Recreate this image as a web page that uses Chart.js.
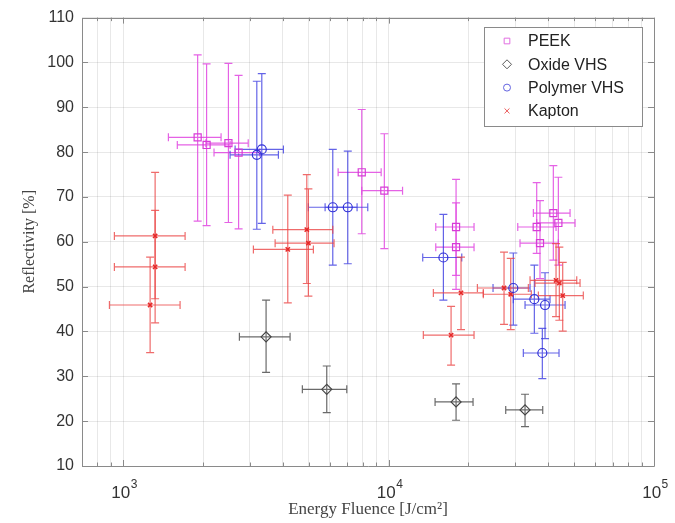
<!DOCTYPE html>
<html>
<head>
<meta charset="utf-8">
<script src="https://cdn.jsdelivr.net/npm/chart.js@4.4.1/dist/chart.umd.min.js"></script>
<style>
  html, body { margin: 0; padding: 0; background: #fff; }
  #wrap { width: 675px; height: 523px; }
</style>
</head>
<body>
<div id="wrap"><canvas id="chart" width="675" height="523"></canvas></div>
<script>
// PEEK
var peekX   = [1909, 2063, 2493, 2723, 7925, 9640, 17960, 17960, 41760, 43620, 36150, 37200];
var peekY   = [83.3, 81.6, 82.0, 79.9, 75.5, 71.4, 63.3, 58.8, 66.4, 64.2, 63.3, 59.7];
var peekXLo = [1481, 1600, 2050, 2200, 6457, 7925, 15060, 15060, 35120, 36150, 30670, 31280];
var peekXHi = [2339, 2530, 2960, 3270, 9378, 11290, 20990, 20990, 48280, 50410, 42750, 43620];
var peekYLo = [64.6, 63.6, 64.3, 62.9, 61.8, 58.5, 52.5, 49.4, 55.9, 54.8, 57.4, 51.8];
var peekYHi = [101.7, 99.7, 99.8, 97.1, 89.5, 84.1, 73.9, 68.7, 77.0, 74.4, 73.2, 69.2];

// Oxide VHS
var oxideX   = [3456, 5850, 17960, 32670];
var oxideY   = [38.8, 27.1, 24.3, 22.5];
var oxideXLo = [2742, 4734, 14970, 27630];
var oxideXHi = [4256, 6960, 20810, 38090];
var oxideYLo = [30.9, 21.9, 20.2, 18.8];
var oxideYHi = [47.0, 32.3, 28.3, 26.0];

// Polymer VHS
var polyX   = [3189, 3330, 6164, 7020, 16090, 29510, 35420, 38860, 37960];
var polyY   = [79.4, 80.6, 67.7, 67.7, 56.5, 49.7, 47.2, 45.9, 35.2];
var polyXLo = [2529, 2642, 4989, 5767, 13450, 24750, 29510, 32670, 32190];
var polyXHi = [3846, 4017, 7610, 8350, 18870, 34120, 40580, 46230, 43870];
var polyYLo = [62.8, 64.1, 54.8, 55.1, 47.0, 41.4, 39.6, 38.4, 29.5];
var polyYHi = [95.8, 97.5, 80.6, 80.2, 66.1, 57.5, 54.8, 53.1, 40.7];

// Kapton
var kapX   = [1320, 1320, 1264, 4920, 4988, 4172, 18750, 17200, 27230, 28860, 42750, 43990, 45300];
var kapY   = [61.3, 54.4, 45.9, 62.7, 59.7, 58.3, 48.6, 39.2, 49.7, 48.3, 51.4, 50.8, 48.0];
var kapXLo = [927, 927, 888, 3664, 3738, 3096, 14750, 13520, 21610, 22750, 34120, 35630, 36670];
var kapXHi = [1712, 1712, 1639, 6164, 6233, 5209, 22750, 20990, 33620, 34500, 51160, 52650, 54160];
var kapYLo = [47.3, 41.9, 35.3, 50.7, 47.9, 46.4, 40.4, 32.5, 41.6, 40.4, 43.3, 42.5, 40.1];
var kapYHi = [75.5, 67.0, 56.6, 75.0, 71.8, 70.4, 56.6, 45.6, 57.7, 56.3, 59.6, 58.8, 55.4];

var xTickValues = [1000, 10000, 100000];
var xTickBase = '10';
var xTickExponents = ['3', '4', '5'];
var yTickValues = [10, 20, 30, 40, 50, 60, 70, 80, 90, 100, 110];

// minor grid positions on the log axis: 800, 900, 1000, 2000 ... 100000
var xGridValues = [];
[100, 1000, 10000].forEach(function (dec) {
  for (var m = 1; m <= 9; m++) {
    var v = m * dec;
    if (v >= 800) xGridValues.push(v);
  }
});
xGridValues.push(100000);

function points(xs, ys, xlo, xhi, ylo, yhi) {
  return xs.map(function (x, i) {
    return { x: x, y: ys[i], xMin: xlo[i], xMax: xhi[i], yMin: ylo[i], yMax: yhi[i] };
  });
}

var sansFont = '"Liberation Sans", Arial, Helvetica, sans-serif';
var serifFont = '"Liberation Serif", "DejaVu Serif", serif';

var errorBars = {
  id: 'errorBars',
  beforeDatasetsDraw: function (chart) {
    var ctx = chart.ctx, xs = chart.scales.x, ys = chart.scales.y, a = chart.chartArea;
    ctx.save();
    ctx.beginPath();
    ctx.rect(a.left, a.top, a.right - a.left, a.bottom - a.top);
    ctx.clip();
    ctx.lineWidth = 1.2;
    chart.data.datasets.forEach(function (ds) {
      ctx.strokeStyle = ds.errColor;
      ds.data.forEach(function (p) {
        var px = xs.getPixelForValue(p.x), py = ys.getPixelForValue(p.y);
        var x0 = xs.getPixelForValue(p.xMin), x1 = xs.getPixelForValue(p.xMax);
        var y0 = ys.getPixelForValue(p.yMin), y1 = ys.getPixelForValue(p.yMax);
        var c = 4;
        ctx.beginPath();
        ctx.moveTo(x0, py); ctx.lineTo(x1, py);
        ctx.moveTo(x0, py - c); ctx.lineTo(x0, py + c);
        ctx.moveTo(x1, py - c); ctx.lineTo(x1, py + c);
        ctx.moveTo(px, y0); ctx.lineTo(px, y1);
        ctx.moveTo(px - c, y0); ctx.lineTo(px + c, y0);
        ctx.moveTo(px - c, y1); ctx.lineTo(px + c, y1);
        ctx.stroke();
      });
    });
    ctx.restore();
  }
};

var axesBox = {
  id: 'axesBox',
  beforeDatasetsDraw: function (chart) {
    var ctx = chart.ctx, xs = chart.scales.x, ys = chart.scales.y, a = chart.chartArea;
    ctx.save();
    ctx.strokeStyle = '#8a8a8a';
    ctx.lineWidth = 1;
    ctx.beginPath();
    ctx.rect(Math.round(a.left) + 0.5, Math.round(a.top) + 0.5, Math.round(a.right - a.left), Math.round(a.bottom - a.top));
    xGridValues.forEach(function (v) {
      var px = Math.round(xs.getPixelForValue(v)) + 0.5;
      var len = xTickValues.indexOf(v) >= 0 ? 6 : 3.5;
      ctx.moveTo(px, a.bottom); ctx.lineTo(px, a.bottom - len);
      ctx.moveTo(px, a.top); ctx.lineTo(px, a.top + len);
    });
    yTickValues.forEach(function (v) {
      var py = Math.round(ys.getPixelForValue(v)) + 0.5;
      ctx.moveTo(a.left, py); ctx.lineTo(a.left + 6, py);
      ctx.moveTo(a.right, py); ctx.lineTo(a.right - 6, py);
    });
    ctx.stroke();
    ctx.restore();
  }
};

// x tick labels as 10 with a raised exponent
var powerLabels = {
  id: 'powerLabels',
  afterDraw: function (chart) {
    var ctx = chart.ctx, xs = chart.scales.x, a = chart.chartArea;
    ctx.save();
    ctx.fillStyle = '#333';
    ctx.textBaseline = 'alphabetic';
    ctx.textAlign = 'left';
    xTickValues.forEach(function (v, i) {
      var px = xs.getPixelForValue(v);
      ctx.font = '17px ' + sansFont;
      var wb = ctx.measureText(xTickBase).width;
      ctx.font = '12px ' + sansFont;
      var we = ctx.measureText(xTickExponents[i]).width;
      var x0 = px - (wb + we) / 2 + 1;
      ctx.font = '17px ' + sansFont;
      ctx.fillText(xTickBase, x0, a.bottom + 32);
      ctx.font = '12px ' + sansFont;
      ctx.fillText(xTickExponents[i], x0 + wb + 0.5, a.bottom + 22);
    });
    ctx.restore();
  }
};

var boxLegend = {
  id: 'boxLegend',
  afterDraw: function (chart) {
    var ctx = chart.ctx;
    var left = 484, top = 27, w = 158, h = 99;
    ctx.save();
    ctx.fillStyle = '#fff';
    ctx.fillRect(left, top, w, h);
    ctx.strokeStyle = '#8a8a8a';
    ctx.lineWidth = 1;
    ctx.strokeRect(left + 0.5, top + 0.5, w, h);
    ctx.font = '16px ' + sansFont;
    ctx.textBaseline = 'middle';
    chart.data.datasets.forEach(function (ds, i) {
      var cy = top + 14 + i * 23.3;
      ctx.fillStyle = 'rgba(0,0,0,0)';
      ctx.strokeStyle = ds.legendColor;
      ctx.lineWidth = 1;
      Chart.helpers.drawPoint(ctx, {
        pointStyle: ds.pointStyle, radius: ds.legendRadius, rotation: 0,
        borderWidth: 1
      }, left + 23, cy);
      ctx.fillStyle = '#222';
      ctx.fillText(ds.label, left + 44, cy + 1);
    });
    ctx.restore();
  }
};

new Chart(document.getElementById('chart'), {
  type: 'scatter',
  data: {
    datasets: [
      {
        label: 'PEEK', data: points(peekX, peekY, peekXLo, peekXHi, peekYLo, peekYHi),
        pointStyle: 'rect', pointRadius: 5, borderColor: 'rgb(215,60,215)', backgroundColor: 'rgba(0,0,0,0)',
        borderWidth: 1.2, errColor: 'rgba(225,70,225,0.85)', legendColor: 'rgb(225,110,225)', legendRadius: 4
      },
      {
        label: 'Oxide VHS', data: points(oxideX, oxideY, oxideXLo, oxideXHi, oxideYLo, oxideYHi),
        pointStyle: 'rectRot', pointRadius: 5, borderColor: 'rgb(70,70,70)', backgroundColor: 'rgba(0,0,0,0)',
        borderWidth: 1.2, errColor: 'rgba(80,80,80,0.85)', legendColor: 'rgb(90,90,90)', legendRadius: 4.5
      },
      {
        label: 'Polymer VHS', data: points(polyX, polyY, polyXLo, polyXHi, polyYLo, polyYHi),
        pointStyle: 'circle', pointRadius: 4.5, borderColor: 'rgb(50,50,215)', backgroundColor: 'rgba(0,0,0,0)',
        borderWidth: 1.2, errColor: 'rgba(60,60,225,0.8)', legendColor: 'rgb(100,100,225)', legendRadius: 3.5
      },
      {
        label: 'Kapton', data: points(kapX, kapY, kapXLo, kapXHi, kapYLo, kapYHi),
        pointStyle: 'crossRot', pointRadius: 3, borderColor: 'rgb(230,40,40)', backgroundColor: 'rgba(0,0,0,0)',
        borderWidth: 1.5, errColor: 'rgba(235,70,70,0.8)', legendColor: 'rgb(235,90,90)', legendRadius: 3.5
      }
    ]
  },
  options: {
    responsive: false,
    animation: false,
    devicePixelRatio: 1,
    layout: { padding: { left: 0, right: 21, top: 17, bottom: 0 } },
    plugins: {
      legend: { display: false },
      tooltip: { enabled: false }
    },
    scales: {
      x: {
        type: 'logarithmic',
        min: 700,
        max: 100000,
        afterBuildTicks: function (scale) {
          scale.ticks = xGridValues.map(function (v) { return { value: v }; });
        },
        afterFit: function (scale) { scale.height = 57; },
        grid: { color: 'rgba(0,0,0,0.09)', drawTicks: false },
        border: { display: false },
        ticks: {
          autoSkip: false, maxRotation: 0, minRotation: 0, padding: 12,
          font: { family: sansFont, size: 17 },
          callback: function () { return ''; }
        },
        title: {
          display: true, text: 'Energy Fluence [J/cm\u00B2]', color: '#444',
          font: { family: serifFont, size: 17 }, padding: { top: 0, bottom: 3 }
        }
      },
      y: {
        min: 10,
        max: 110,
        afterBuildTicks: function (scale) {
          scale.ticks = yTickValues.map(function (v) { return { value: v }; });
        },
        afterFit: function (scale) { scale.width = 82; },
        grid: { color: 'rgba(0,0,0,0.09)', drawTicks: false },
        border: { display: false },
        ticks: { padding: 8, color: '#333', font: { family: sansFont, size: 16 } },
        title: {
          display: true, text: 'Reflectivity [%]', color: '#444',
          font: { family: serifFont, size: 16 }, padding: { top: 20, bottom: 0 }
        }
      }
    }
  },
  plugins: [axesBox, errorBars, powerLabels, boxLegend]
});
</script>
</body>
</html>
